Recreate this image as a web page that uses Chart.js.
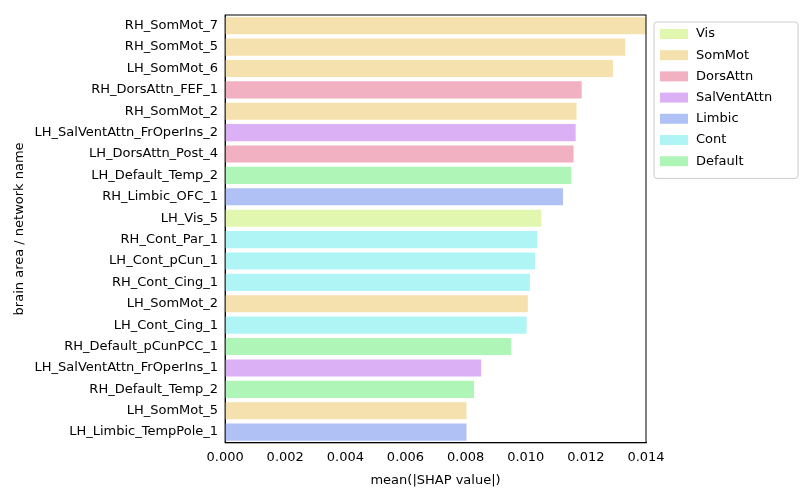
<!DOCTYPE html>
<html>
<head>
<script src="https://cdn.jsdelivr.net/npm/chart.js@4"></script>
<style>body{margin:0;background:#fff}</style>
</head>
<body>
<canvas id="shap" width="800" height="500"></canvas>
<script>
// Regions, ordered as in the plot (top to bottom)
var regions = ['RH_SomMot_7','RH_SomMot_5','LH_SomMot_6','RH_DorsAttn_FEF_1','RH_SomMot_2',
  'LH_SalVentAttn_FrOperIns_2','LH_DorsAttn_Post_4','LH_Default_Temp_2','RH_Limbic_OFC_1','LH_Vis_5',
  'RH_Cont_Par_1','LH_Cont_pCun_1','RH_Cont_Cing_1','LH_SomMot_2','LH_Cont_Cing_1',
  'RH_Default_pCunPCC_1','LH_SalVentAttn_FrOperIns_1','RH_Default_Temp_2','LH_SomMot_5','LH_Limbic_TempPole_1'];
var shapValues = [0.01405,0.01331,0.0129,0.01186,0.01169,0.01166,0.01159,0.01152,0.01124,0.01052,
  0.01038,0.01031,0.01014,0.01007,0.01003,0.00952,0.00852,0.00828,0.00803,0.00803];
var regionNetwork = ['SomMot','SomMot','SomMot','DorsAttn','SomMot','SalVentAttn','DorsAttn','Default','Limbic','Vis',
  'Cont','Cont','Cont','SomMot','Cont','Default','SalVentAttn','Default','SomMot','Limbic'];
var networks = ['Vis','SomMot','DorsAttn','SalVentAttn','Limbic','Cont','Default'];
var networkColors = ['#e1f7b0','#f5e1ae','#f2b0c3','#dcb0f5','#b0c1f5','#b0f5f5','#b0f5b8'];

// one dataset per network, nulls elsewhere, stacked so bars keep full width
var datasets = networks.map(function(net, i) {
    return {
        label: net,
        data: regions.map(function(r, j) { return regionNetwork[j] === net ? shapValues[j] : null; }),
        backgroundColor: networkColors[i],
        barPercentage: 0.8,
        categoryPercentage: 1.0
    };
});

var font = {family: 'DejaVu Sans', size: 13};

// axes box + matplotlib-style legend
var boxPlugin = {
    id: 'box',
    afterDraw: function(chart) {
        var c = chart.ctx, a = chart.chartArea;
        c.save();
        c.strokeStyle = '#000'; c.lineWidth = 1;
        c.strokeRect(a.left, a.top, a.right - a.left, a.bottom - a.top);
        // legend
        var lx = a.right + 8, ly = a.top + 7, w = 144, rowH = 21.2;
        c.strokeStyle = '#cccccc';
        c.fillStyle = '#fff';
        c.beginPath(); c.roundRect(lx, ly, w, networks.length * rowH + 8, 3); c.fill(); c.stroke();
        c.font = '13px DejaVu Sans';
        c.textBaseline = 'middle';
        networks.forEach(function(n, i) {
            var y = ly + 12 + i * rowH;
            c.fillStyle = networkColors[i];
            c.fillRect(lx + 6, y - 5, 28, 10);
            c.fillStyle = '#000';
            c.fillText(n, lx + 42, y);
        });
        c.restore();
    }
};

new Chart(document.getElementById('shap').getContext('2d'), {
    type: 'bar',
    data: {labels: regions, datasets: datasets},
    options: {
        indexAxis: 'y',
        responsive: false,
        animation: false,
        layout: {padding: {top: 15, right: 154, left: 8, bottom: 8}},
        scales: {
            x: {
                stacked: true, min: 0, max: 0.014,
                grid: {display: false, drawTicks: true, tickLength: 4},
                border: {color: '#000'},
                ticks: {stepSize: 0.002, color: '#000', font: font,
                    callback: function(v) { return v.toFixed(3); }},
                title: {display: true, text: 'mean(|SHAP value|)', color: '#000', font: font}
            },
            y: {
                stacked: true,
                grid: {display: false, tickLength: 4},
                border: {color: '#000'},
                ticks: {color: '#000', font: font, autoSkip: false},
                title: {display: true, text: 'brain area / network name', color: '#000', font: font}
            }
        },
        plugins: {legend: {display: false}, tooltip: {enabled: false}}
    },
    plugins: [boxPlugin]
});
</script>
</body>
</html>
